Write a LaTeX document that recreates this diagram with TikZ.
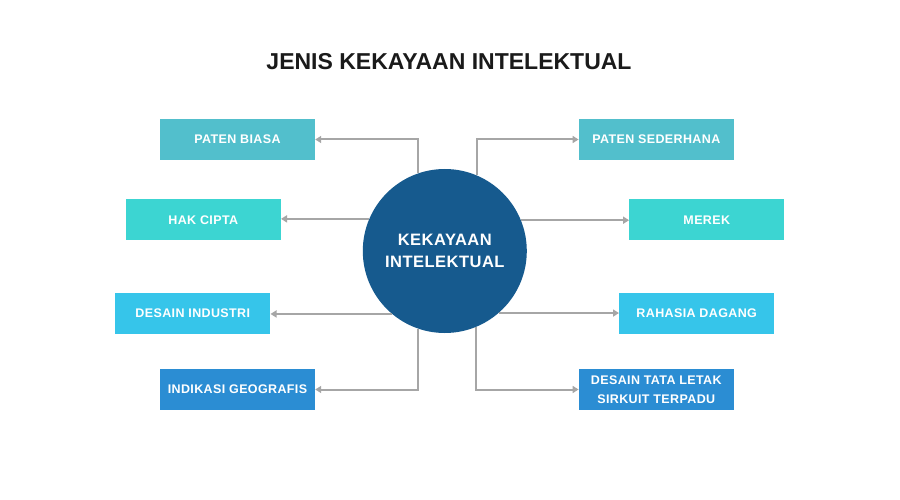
\documentclass[tikz,border=0pt]{standalone}
\usepackage{fontspec}
\setmainfont{Liberation Sans}
\newfontfamily\boxfont[LetterSpace=3]{Liberation Sans}
\usetikzlibrary{arrows.meta}
\definecolor{cPaten}{HTML}{52BFCC}
\definecolor{cHak}{HTML}{3CD5D2}
\definecolor{cDesain}{HTML}{36C5EA}
\definecolor{cInd}{HTML}{2B8DD3}
\definecolor{cCircle}{HTML}{165A8E}
\definecolor{cLine}{HTML}{A6A6A6}
\definecolor{cTitle}{HTML}{1A1A1A}
\tikzset{
  itembox/.style={rectangle, minimum width=155pt, minimum height=41pt, inner sep=0pt,
    text=white, align=center, font=\boxfont\bfseries\fontsize{12.5}{18.4}\selectfont},
  hub/.style={circle, fill=cCircle, minimum size=164pt, inner sep=0pt, text=white,
    align=center, font=\boxfont\bfseries\fontsize{16.5}{22.3}\selectfont},
  conn/.style={draw=cLine, line width=2pt, -{Triangle[length=6pt,width=7pt]}},
}
\begin{document}
\begin{tikzpicture}[x=1pt,y=-1pt]
\useasboundingbox[fill=white] (0,0) rectangle (900,500);
\node[anchor=base, text=cTitle, font=\bfseries\fontsize{23}{26}\selectfont] (title) at (449,70) {JENIS KEKAYAAN INTELEKTUAL};
\node[hub] (c) at (444.8,251) {KEKAYAAN\\INTELEKTUAL};
\node[itembox, fill=cPaten] (pb) at (237.5,139.5) {PATEN BIASA};
\node[itembox, fill=cHak] (hc) at (203.3,219.7) {HAK CIPTA};
\node[itembox, fill=cDesain] (di) at (192.8,313) {DESAIN INDUSTRI};
\node[itembox, fill=cInd] (ig) at (237.5,389.5) {INDIKASI GEOGRAFIS};
\node[itembox, fill=cPaten] (ps) at (656.3,139.5) {PATEN SEDERHANA};
\node[itembox, fill=cHak] (me) at (706.8,219.7) {MEREK};
\node[itembox, fill=cDesain] (rd) at (696.7,313) {RAHASIA DAGANG};
\node[itembox, fill=cInd] (dt) at (656.3,389.5) {DESAIN TATA LETAK\\SIRKUIT TERPADU};
\draw[conn] (c.109.6) |- (pb.east);
\draw[conn] (c.157.6) -- (c.157.6 -| hc.east);
\draw[conn] (c.-130.9) -- (c.-130.9 -| di.east);
\draw[conn] (c.-109.6) |- (ig.east);
\draw[conn] (c.67.6) |- (ps.west);
\draw[conn] (c.22.4) -- (c.22.4 -| me.west);
\draw[conn] (c.-49.1) -- (c.-49.1 -| rd.west);
\draw[conn] (c.-68.9) |- (dt.west);
\end{tikzpicture}
\end{document}
